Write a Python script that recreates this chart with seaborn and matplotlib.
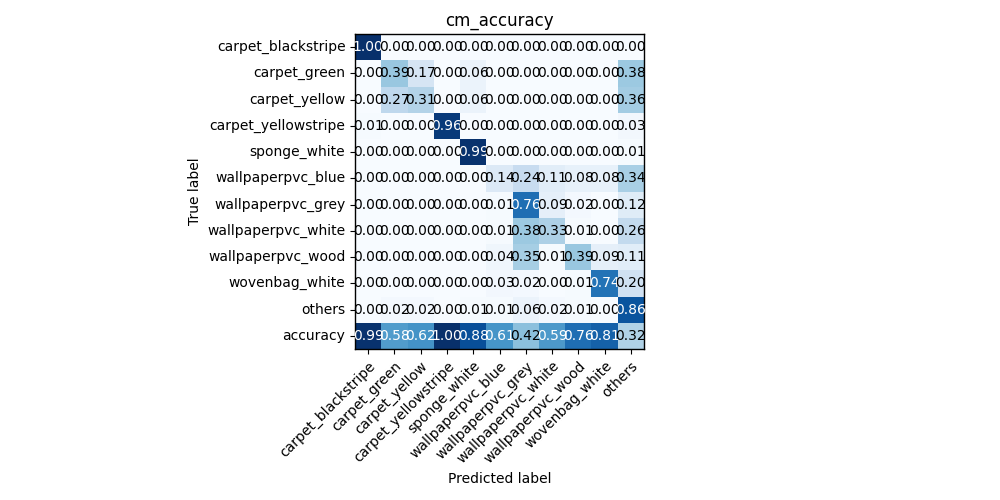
import numpy as np
import pandas as pd
import matplotlib
matplotlib.use("Agg")
import matplotlib.pyplot as plt
import seaborn as sns

pred_labels = ["carpet_blackstripe", "carpet_green", "carpet_yellow", "carpet_yellowstripe",
               "sponge_white", "wallpaperpvc_blue", "wallpaperpvc_grey", "wallpaperpvc_white",
               "wallpaperpvc_wood", "wovenbag_white", "others"]
true_labels = pred_labels + ["accuracy"]

row_carpet_blackstripe = [1.00, 0.00, 0.00, 0.00, 0.00, 0.00, 0.00, 0.00, 0.00, 0.00, 0.00]
row_carpet_green = [0.00, 0.39, 0.17, 0.00, 0.06, 0.00, 0.00, 0.00, 0.00, 0.00, 0.38]
row_carpet_yellow = [0.00, 0.27, 0.31, 0.00, 0.06, 0.00, 0.00, 0.00, 0.00, 0.00, 0.36]
row_carpet_yellowstripe = [0.01, 0.00, 0.00, 0.96, 0.00, 0.00, 0.00, 0.00, 0.00, 0.00, 0.03]
row_sponge_white = [0.00, 0.00, 0.00, 0.00, 0.99, 0.00, 0.00, 0.00, 0.00, 0.00, 0.01]
row_wallpaperpvc_blue = [0.00, 0.00, 0.00, 0.00, 0.00, 0.14, 0.24, 0.11, 0.08, 0.08, 0.34]
row_wallpaperpvc_grey = [0.00, 0.00, 0.00, 0.00, 0.00, 0.01, 0.76, 0.09, 0.02, 0.00, 0.12]
row_wallpaperpvc_white = [0.00, 0.00, 0.00, 0.00, 0.00, 0.01, 0.38, 0.33, 0.01, 0.00, 0.26]
row_wallpaperpvc_wood = [0.00, 0.00, 0.00, 0.00, 0.00, 0.04, 0.35, 0.01, 0.39, 0.09, 0.11]
row_wovenbag_white = [0.00, 0.00, 0.00, 0.00, 0.00, 0.03, 0.02, 0.00, 0.01, 0.74, 0.20]
row_others = [0.00, 0.02, 0.02, 0.00, 0.01, 0.01, 0.06, 0.02, 0.01, 0.00, 0.86]
row_accuracy = [0.99, 0.58, 0.62, 1.00, 0.88, 0.61, 0.42, 0.59, 0.76, 0.81, 0.32]

matrix = np.array([row_carpet_blackstripe, row_carpet_green, row_carpet_yellow,
                   row_carpet_yellowstripe, row_sponge_white, row_wallpaperpvc_blue,
                   row_wallpaperpvc_grey, row_wallpaperpvc_white, row_wallpaperpvc_wood,
                   row_wovenbag_white, row_others, row_accuracy])
df = pd.DataFrame(matrix, index=true_labels, columns=pred_labels)

plt.rcParams['font.family'] = ['DejaVu Sans']
fig = plt.figure(figsize=(10, 5), dpi=100)
ax = fig.add_axes([0.355, 0.302, 0.289, 0.630])

sns.heatmap(df, ax=ax, cmap="Blues", vmin=0, vmax=1, cbar=False, annot=False,
            square=False)
ax.set_aspect('equal')

thresh = 0.5
for i in range(matrix.shape[0]):
    for j in range(matrix.shape[1]):
        v = matrix[i, j]
        ax.text(j + 0.5, i + 0.5, f"{v:.2f}", ha="center", va="center",
                color="white" if v > thresh else "black", fontsize=10)

for s in ax.spines.values():
    s.set_visible(True)
    s.set_color("black")
    s.set_linewidth(1.0)

ax.tick_params(axis='both', length=3.5, width=0.8, labelsize=10)
ax.set_xticklabels(pred_labels, rotation=45, ha="right", rotation_mode="anchor")
ax.set_yticklabels(true_labels, rotation=0)
ax.set_title("cm_accuracy", fontsize=12)
ax.set_xlabel("Predicted label", fontsize=10)
ax.set_ylabel("True label", fontsize=10)

fig.savefig("out.png", dpi=100)
